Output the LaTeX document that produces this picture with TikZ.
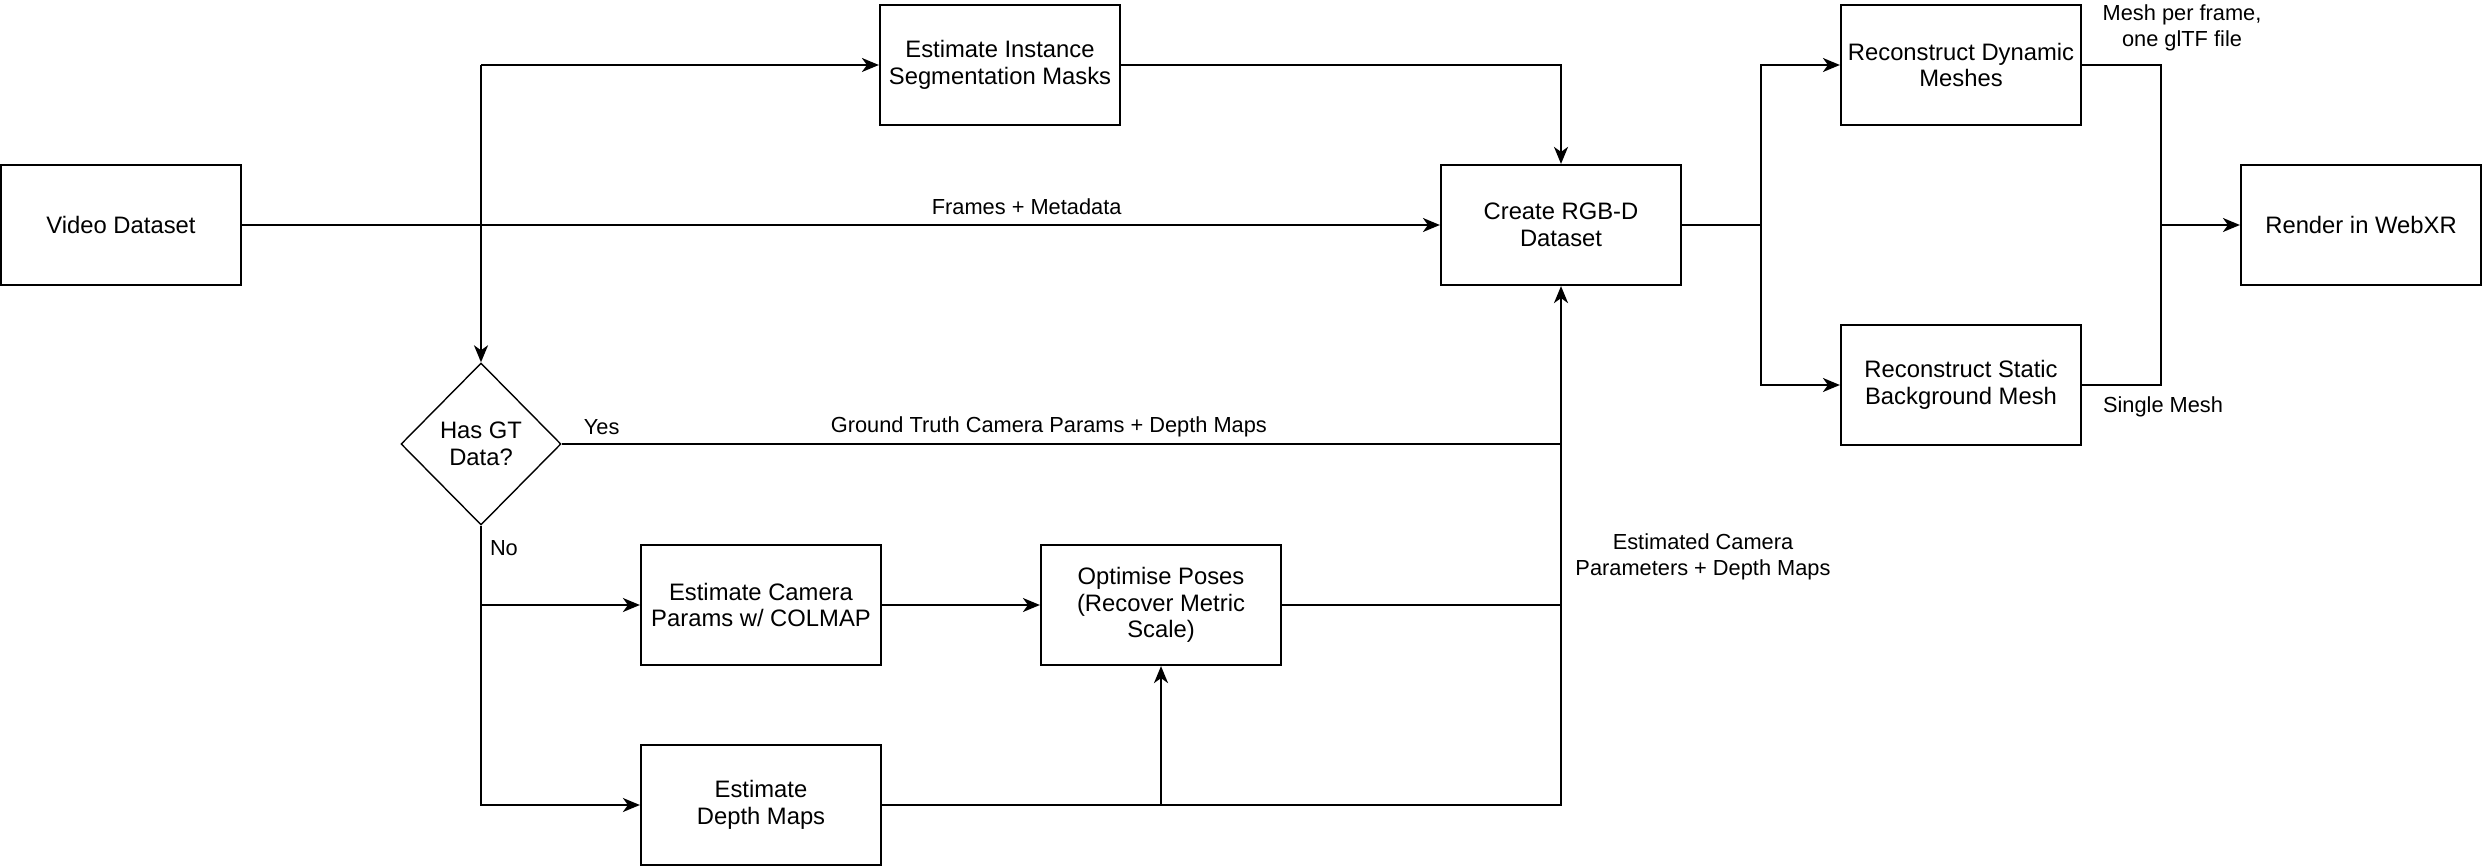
\documentclass[tikz,border=0pt]{standalone}
\usepackage{fontspec}
\setmainfont{Liberation Sans}
\usetikzlibrary{arrows.meta,shapes.geometric}
\tikzset{
  box/.style={draw, line width=1.1pt, minimum width=120pt, minimum height=60pt,
    align=center, inner sep=1pt, font=\fontsize{11.9}{13.4}\selectfont},
  dec/.style={draw, diamond, line width=0.7pt, minimum width=80pt, minimum height=81pt,
    inner sep=0pt, align=center, font=\fontsize{11.9}{13.4}\selectfont},
  conn/.style={line width=1pt, line join=miter},
  arr/.style={conn, -{Stealth[length=8.5pt,width=7pt,inset=2.5pt]}},
  lbl/.style={inner sep=1pt, align=center, font=\fontsize{10.9}{12.7}\selectfont}
}
\begin{document}
\begin{tikzpicture}[x=0.5pt,y=-0.5pt]
\useasboundingbox (0,0) rectangle (2482,866);
% nodes
\node[box] (vid) at (121,225) {Video Dataset};
\node[box] (inst) at (1000,65) {Estimate Instance\\Segmentation Masks};
\node[box] (rgbd) at (1561,225) {Create RGB-D\\Dataset};
\node[box] (dyn) at (1961,65) {Reconstruct Dynamic\\Meshes};
\node[box] (stat) at (1961,385) {Reconstruct Static\\Background Mesh};
\node[box] (render) at (2361,225) {Render in WebXR};
\node[dec] (gt) at (481,444) {Has GT\\Data?};
\node[box] (cam) at (761,605) {Estimate Camera\\Params w/ COLMAP};
\node[box] (opt) at (1161,605) {Optimise Poses\\(Recover Metric\\Scale)};
\node[box] (depth) at (761,805) {Estimate\\Depth Maps};
\coordinate (split) at (gt.north |- inst.west);
\coordinate (j1) at (1761,225);
\coordinate (j2) at (2161,225);
% connectors
\draw[arr] (vid.east) -- node[lbl, pos=0.655, yshift=9pt] {Frames + Metadata} (rgbd.west);
\draw[arr] (split) -- (inst.west);
\draw[arr] (split) -- (gt.north);
\draw[arr] (inst.east) -| (rgbd.north);
\draw[arr] (gt.east) -- node[lbl, pos=0.04, yshift=8.5pt] {Yes}
   node[lbl, pos=0.4875, yshift=8.5pt] {Ground Truth Camera Params + Depth Maps}
   (gt.east -| rgbd.south) -- (rgbd.south);
\draw[arr] (gt.south) -- node[lbl, pos=0.28, anchor=west, xshift=3pt] {No} (gt.south |- cam.west) -- (cam.west);
\draw[arr] (gt.south |- cam.west) |- (depth.west);
\draw[arr] (cam.east) -- (opt.west);
\draw[conn] (opt.east) -- (opt.east -| rgbd.south);
\draw[conn] (depth.east) -| (gt.east -| rgbd.south);
\draw[arr] (opt.south |- depth.east) -- (opt.south);
\node[lbl] (est) at (1703,557) {Estimated Camera\\Parameters + Depth Maps};
\draw[conn] (rgbd.east) -- (j1);
\draw[arr] (j1) |- (dyn.west);
\draw[arr] (j1) |- (stat.west);
\draw[conn] (dyn.east) -| (j2);
\draw[conn] (stat.east) -| (j2);
\draw[arr] (j2) -- (render.west);
\node[lbl] (meshlbl) at (2182,28) {Mesh per frame,\\one glTF file};
\node[lbl] (singlelbl) at (2163,407) {Single Mesh};
\end{tikzpicture}
\end{document}
